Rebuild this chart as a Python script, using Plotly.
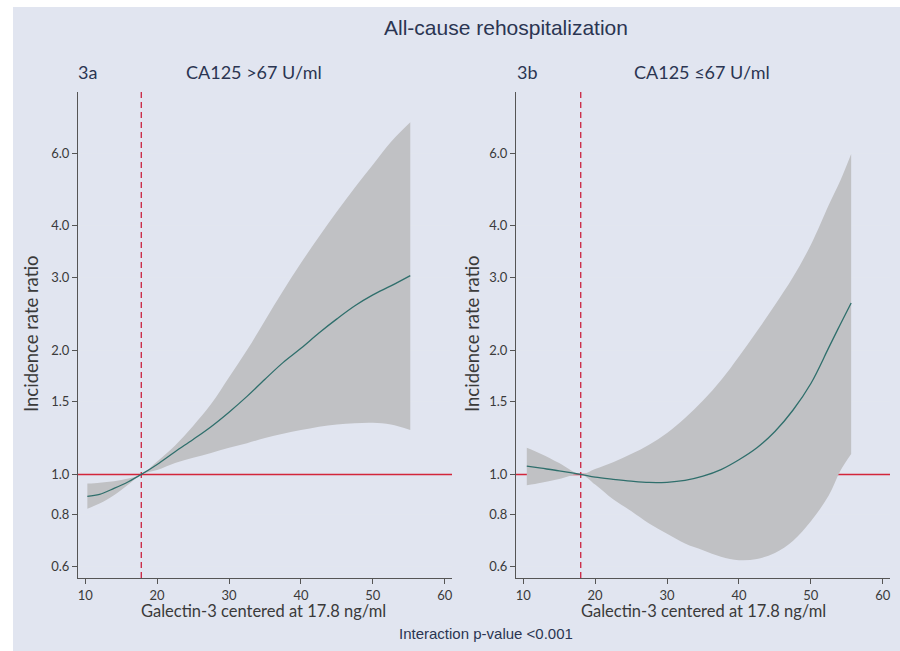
import math
import plotly.graph_objects as go

# ---------------- data ----------------
# Panel 3a: CA125 > 67 U/ml
a_x = [10.3, 12, 14, 16, 17.8, 20, 22.5, 25, 27.5, 30, 32.5, 35, 37.5, 40, 42.5, 45, 47.5, 50, 52.5, 55.2]
a_est = [0.885, 0.895, 0.925, 0.96, 1.0, 1.057, 1.135, 1.215, 1.305, 1.415, 1.545, 1.70, 1.865, 2.02, 2.20, 2.38, 2.56, 2.72, 2.86, 3.03]
a_upper = [0.95, 0.955, 0.962, 0.977, 1.0, 1.075, 1.175, 1.31, 1.48, 1.72, 2.0, 2.36, 2.78, 3.25, 3.76, 4.33, 4.95, 5.62, 6.38, 7.12]
a_lower = [0.826, 0.85, 0.89, 0.945, 1.0, 1.025, 1.066, 1.097, 1.127, 1.16, 1.19, 1.225, 1.255, 1.28, 1.305, 1.32, 1.33, 1.333, 1.32, 1.28]

# Panel 3b: CA125 <= 67 U/ml
b_x = [10.5, 12.5, 15, 18, 20, 22.5, 25, 27.5, 30, 32.5, 35, 37.5, 40, 42.5, 45, 47.5, 50, 52.5, 54.1, 55.6]
b_est = [1.047, 1.035, 1.02, 1.0, 0.985, 0.973, 0.963, 0.956, 0.957, 0.967, 0.99, 1.027, 1.085, 1.16, 1.27, 1.43, 1.66, 2.03, 2.31, 2.60]
b_upper = [1.16, 1.12, 1.065, 1.0, 1.03, 1.07, 1.12, 1.18, 1.26, 1.37, 1.51, 1.69, 1.93, 2.22, 2.57, 3.0, 3.6, 4.5, 5.15, 5.97]
b_lower = [0.941, 0.955, 0.975, 1.0, 0.945, 0.87, 0.815, 0.76, 0.718, 0.68, 0.655, 0.632, 0.62, 0.624, 0.645, 0.69, 0.77, 0.89, 1.02, 1.12]

ref_a = 17.8
ref_b = 18.0

y_tickvals = [0.6, 0.8, 1.0, 1.5, 2.0, 3.0, 4.0, 6.0]
y_ticktext = ["0.6", "0.8", "1.0", "1.5", "2.0", "3.0", "4.0", "6.0"]
x_tickvals = [10, 20, 30, 40, 50, 60]
x_range = [9, 61]
y_lo, y_hi = 0.5612, 8.433

title_text = "All-cause rehospitalization"
panel_ids = ["3a", "3b"]
panel_titles = ["CA125 >67 U/ml", "CA125 \u226467 U/ml"]
x_title = "Galectin-3 centered at 17.8 ng/ml"
y_title = "Incidence rate ratio"
footer = "Interaction p-value <0.001"

# ---------------- styling ----------------
W, H = 900, 651
BG = "#e1e5f0"
BAND = "#c0c1c4"
LINE = "#2f6f6c"
RED = "#d3253a"
DASHRED = "#c9223f"
GRID = "#e2e6ef"
AXC = "#555555"
TXT = "#3a3a3a"
NAVY = "#2b3552"
BODY_FONT = "Lato"
HEAD_FONT = "Liberation Sans"

fig = go.Figure()

panels = [
    (a_x, a_est, a_upper, a_lower, ref_a, "x", "y"),
    (b_x, b_est, b_upper, b_lower, ref_b, "x2", "y2"),
]
for xs, est, up, lo, ref, xa, ya in panels:
    fig.add_trace(go.Scatter(x=x_range, y=[1, 1], mode="lines",
                             line=dict(color=RED, width=1.5), xaxis=xa, yaxis=ya,
                             hoverinfo="skip", showlegend=False))
    fig.add_trace(go.Scatter(x=[ref, ref], y=[y_lo, y_hi], mode="lines",
                             line=dict(color=DASHRED, width=1.3, dash="6px,4px"),
                             xaxis=xa, yaxis=ya, hoverinfo="skip", showlegend=False))
    fig.add_trace(go.Scatter(x=xs, y=lo, mode="lines", line=dict(width=0, color=BAND, shape="spline"),
                             xaxis=xa, yaxis=ya, hoverinfo="skip", showlegend=False))
    fig.add_trace(go.Scatter(x=xs, y=up, mode="lines", fill="tonexty", fillcolor=BAND,
                             line=dict(width=0, color=BAND, shape="spline"),
                             xaxis=xa, yaxis=ya, hoverinfo="skip", showlegend=False))
    fig.add_trace(go.Scatter(x=xs, y=est, mode="lines", line=dict(color=LINE, width=1.3, shape="spline"),
                             xaxis=xa, yaxis=ya, showlegend=False))


def px_x(p):
    return p / W


def px_y(p):
    return 1 - p / H


ydom = [px_y(578), px_y(92)]
xdom_a = [px_x(78), px_x(452)]
xdom_b = [px_x(516), px_x(890)]

xaxis_common = dict(range=x_range, tickvals=x_tickvals, showgrid=False, zeroline=False, automargin=False,
                    showline=True, linecolor=AXC, linewidth=1, ticks="outside", ticklen=5,
                    tickcolor=AXC, tickfont=dict(family=BODY_FONT, size=13, color=TXT))
yaxis_common = dict(type="log", range=[math.log10(y_lo), math.log10(y_hi)], automargin=False,
                    tickvals=y_tickvals, ticktext=y_ticktext, showgrid=True, gridcolor=GRID, gridwidth=1,
                    zeroline=False, showline=True, linecolor=AXC, linewidth=1, ticks="outside",
                    ticklen=5, tickcolor=AXC, tickfont=dict(family=BODY_FONT, size=13, color=TXT))

fig.update_layout(
    template="none",
    width=W, height=H,
    margin=dict(l=0, r=0, t=0, b=0, pad=0, autoexpand=False),
    paper_bgcolor="white", plot_bgcolor="white",
    xaxis=dict(domain=xdom_a, anchor="y", **xaxis_common),
    yaxis=dict(domain=ydom, anchor="x", **yaxis_common),
    xaxis2=dict(domain=xdom_b, anchor="y2", **xaxis_common),
    yaxis2=dict(domain=ydom, anchor="x2", **yaxis_common),
    shapes=[dict(type="rect", xref="paper", yref="paper", x0=px_x(13), x1=px_x(900),
                 y0=px_y(651), y1=px_y(7), fillcolor=BG, line=dict(width=0), layer="below")],
)


def label(text, cx, cy, size, family, color, angle=0):
    return dict(text=text, x=px_x(cx), y=px_y(cy), xref="paper", yref="paper",
                xanchor="center", yanchor="middle", textangle=angle, showarrow=False,
                font=dict(family=family, size=size, color=color))


ann = [label(title_text, 506, 28, 21, HEAD_FONT, NAVY)]
for cx_id, cx_t, pid, pt in [(87, 253.5, panel_ids[0], panel_titles[0]),
                             (527, 701.5, panel_ids[1], panel_titles[1])]:
    ann.append(label(pid, cx_id, 72, 18, BODY_FONT, NAVY))
    ann.append(label(pt, cx_t, 72, 18, BODY_FONT, NAVY))
for cx in [263, 703]:
    ann.append(label(x_title, cx, 611, 16.5, BODY_FONT, TXT))
for cx in [31, 472]:
    ann.append(label(y_title, cx, 334, 18.5, BODY_FONT, TXT, -90))
ann.append(label(footer, 486, 633, 15, HEAD_FONT, NAVY))
fig.update_layout(annotations=ann)

fig.write_html("out.html", config={"displayModeBar": False},
               post_script="document.body.style.margin='0';document.body.style.overflow='hidden';")
